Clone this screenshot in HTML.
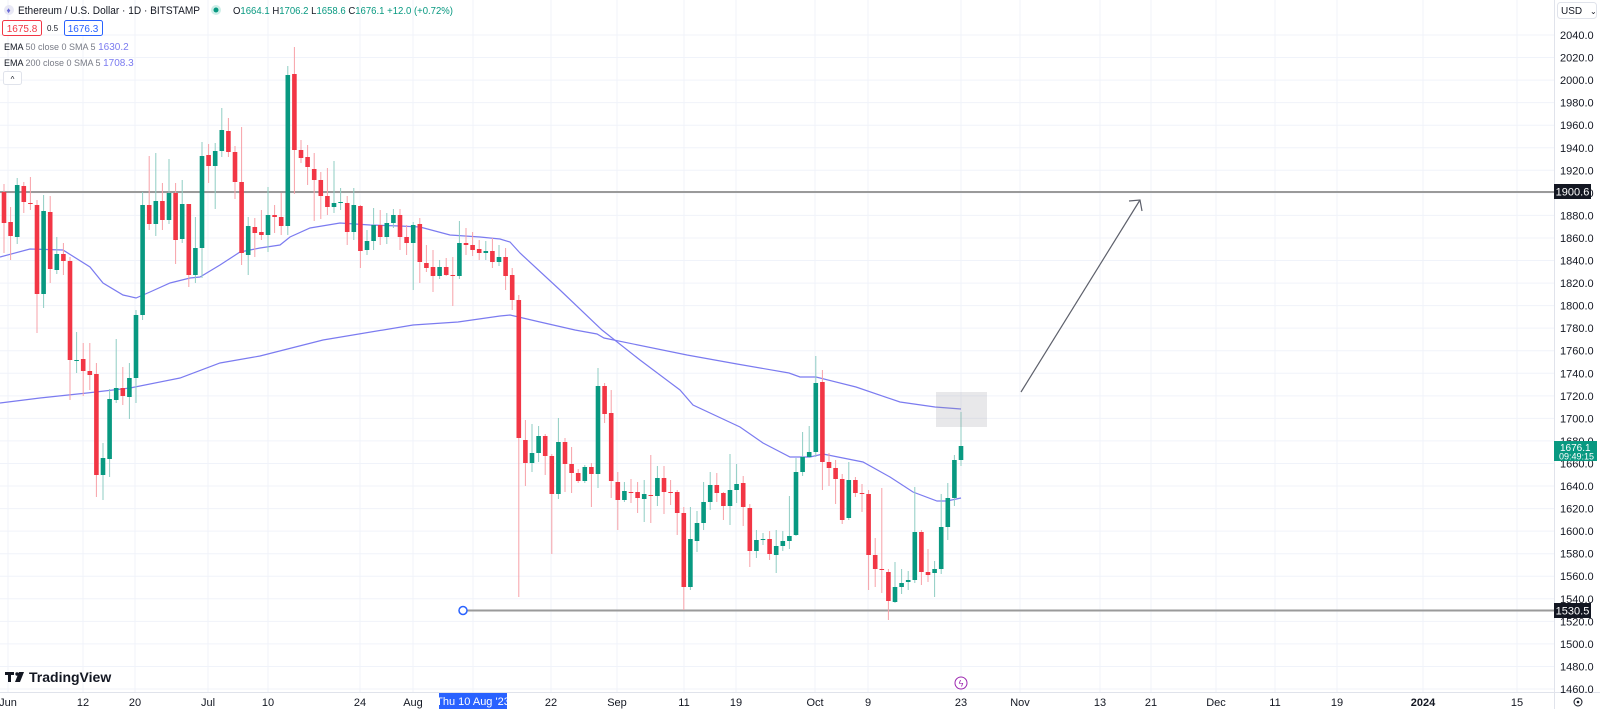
<!DOCTYPE html>
<html><head><meta charset="utf-8">
<style>
html,body{margin:0;padding:0;background:#fff;}
body{width:1600px;height:709px;overflow:hidden;position:relative;font-family:"Liberation Sans",sans-serif;}
svg{position:absolute;left:0;top:0;}
.t{font-family:"Liberation Sans",sans-serif;}
</style></head>
<body>
<svg id="s" width="1600" height="709" xmlns="http://www.w3.org/2000/svg"></svg>
<script>
const s=document.getElementById('s');
let h='';
const Y=p=>35+(2040-p)*1.1276;
for(let p=1460;p<=2040;p+=20){const y=Y(p);h+=`<line x1="0" y1="${y}" x2="1554" y2="${y}" stroke="#f0f3fa" stroke-width="1"/>`;}
const tl=[[8,'Jun'],[83,'12'],[135,'20'],[208,'Jul'],[268,'10'],[360,'24'],[413,'Aug'],[473,''],[551,'22'],[617,'Sep'],[684,'11'],[736,'19'],[815,'Oct'],[868,'9'],[961,'23'],[1020,'Nov'],[1100,'13'],[1151,'21'],[1216,'Dec'],[1275,'11'],[1337,'19'],[1423,'2024'],[1517,'15']];
tl.forEach(([x,l])=>{h+=`<line x1="${x}" y1="0" x2="${x}" y2="692" stroke="#f0f3fa" stroke-width="1"/>`;
 if(l)h+=`<text x="${x}" y="706" font-size="11" fill="#131722" text-anchor="middle" class="t" ${l=='2024'?'font-weight="bold"':''}>${l}</text>`;});
h+=`<line x1="0" y1="692.5" x2="1600" y2="692.5" stroke="#e0e3eb"/><line x1="1554.5" y1="0" x2="1554.5" y2="709" stroke="#e0e3eb"/>`;
for(let p=1460;p<=2040;p+=20){h+=`<text x="1560" y="${Y(p)+4}" font-size="11" fill="#131722" class="t">${p}.0</text>`;}
h+=`<line x1="0" y1="192" x2="1554" y2="192" stroke="#9a9a9a" stroke-width="2"/>`;
h+=`<line x1="467" y1="610.5" x2="1554" y2="610.5" stroke="#9a9a9a" stroke-width="2"/>`;
h+=`<circle cx="463" cy="610.5" r="4" fill="#fff" stroke="#2962ff" stroke-width="1.5"/>`;
const e50=[[0,257],[30,249],[63,250],[90,267],[103,283],[123,295],[136,298],[150,292],[170,283],[190,278],[200,277],[220,265],[240,252],[260,248],[280,245],[290,237],[310,228],[340,223],[370,225],[400,226],[420,227],[450,235],[480,237],[500,239],[510,242],[520,253],[560,290],[602,330],[640,360],[680,390],[693,405],[740,427],[763,443],[790,457],[810,457],[823,454],[843,458],[863,462],[890,477],[913,492],[937,501],[947,501],[961,498]];
const e200=[[0,403],[40,398],[87,393],[130,388],[180,378],[220,363],[260,356],[323,340],[413,325],[458,322],[500,316],[510,315],[540,322],[575,330],[597,334],[604,338],[687,355],[737,364],[789,373],[800,377],[816,377],[856,387],[900,402],[935,407],[961,409]];
const pl=a=>a.map(p=>p.join(',')).join(' ');
h+=`<polyline points="${pl(e50)}" fill="none" stroke="#7b7bf0" stroke-width="1.2"/>`;
h+=`<polyline points="${pl(e200)}" fill="none" stroke="#7b7bf0" stroke-width="1.2"/>`;
const d=`184,192,223,253,r 207,222,236,260,r 178,185,237,244,g 182,186,202,213,r 177,203,204,210,r 200,205,294,333,r 195,211,294,308,g 196,212,269,283,r 237,254,270,274,g 243,254,261,275,r 257,261,360,400,r 332,360,361,373,g 343,359,371,396,r 343,371,375,390,r 363,374,475,497,r 443,458,475,500,g 389,399,459,477,g 339,388,400,403,g 367,388,396,405,r 363,378,397,419,g 310,315,378,403,g 192,205,315,320,g 156,205,224,230,r 153,201,224,236,g 183,201,220,230,r 159,193,220,224,g 183,193,240,264,r 180,204,239,243,g 204,204,275,287,r 217,248,275,283,g 142,156,248,278,g 144,155,166,183,r 143,151,166,209,g 108,130,151,157,g 118,131,152,157,r 146,152,182,199,r 127,182,253,265,r 217,226,255,275,g 218,227,233,257,r 210,232,235,240,r 187,215,235,252,g 205,215,217,233,r 193,217,226,235,r 66,75,226,235,g 47,74,150,194,r 140,150,158,163,r 145,157,167,185,r 153,169,180,221,r 172,180,196,219,r 168,196,207,215,r 161,203,207,213,g 188,202,203,210,g 196,203,232,245,r 188,205,232,240,g 205,206,251,268,r 230,241,250,255,g 208,225,241,250,g 210,225,237,245,r 213,223,237,244,g 209,215,223,228,g 209,215,237,250,r 225,237,243,255,r 222,225,243,290,g 218,224,262,283,r 245,263,268,272,r 250,267,276,292,r 260,267,276,279,g 258,267,275,276,r 257,275,276,306,r 221,243,276,279,g 228,243,245,255,r 232,245,250,256,r 240,249,253,260,r 241,251,253,260,g 238,251,262,268,r 245,257,262,266,g 248,257,276,290,r 268,275,300,310,r 295,300,438,597,r 420,440,463,486,r 424,453,463,472,g 426,436,453,462,g 434,436,456,475,r 454,456,494,554,r 418,442,494,499,g 438,442,464,492,r 447,464,473,493,r 469,473,481,483,r 465,467,481,483,g 463,467,474,507,r 368,386,474,488,g 383,386,414,423,r 390,413,481,498,r 472,482,500,530,r 482,491,500,502,g 479,492,493,503,r 482,492,498,513,r 480,494,499,522,g 455,495,496,523,r 466,478,496,506,g 466,478,492,514,r 480,492,493,505,r 490,492,513,535,r 507,513,587,610,r 507,539,587,590,g 511,523,541,552,g 482,502,523,530,g 472,485,502,510,g 473,485,493,502,r 492,493,506,520,r 454,490,506,525,g 464,484,490,503,g 476,483,507,526,r 504,508,551,567,r 530,540,551,558,g 533,539,540,545,g 531,539,554,560,r 530,546,555,573,g 531,541,546,551,g 496,536,541,549,g 458,472,535,536,g 432,457,472,476,g 426,452,457,458,g 356,383,452,457,g 370,382,462,490,r 453,462,468,486,r 460,468,479,504,r 474,479,520,524,r 462,480,518,520,g 477,480,493,497,r 484,493,494,512,r 490,494,555,590,r 538,555,569,587,r 488,569,570,593,r 569,572,601,620,r 562,587,602,603,g 569,583,587,594,g 571,580,582,590,g 487,532,580,583,g 530,532,572,585,r 549,572,575,582,r 561,569,573,597,g 494,527,569,574,g 483,498,527,540,g 455,460,498,506,g 412,446,460,466,g`.split(' ');
d.forEach((c,i)=>{const [hi,t,b,lo,col]=c.split(',');const x=4+i*6.6;
 const C=col=='r'?'#f23645':'#089981',W=col=='r'?'#f7a1a8':'#8fcdc3';
 h+=`<line x1="${x}" y1="${hi}" x2="${x}" y2="${lo}" stroke="${W}" stroke-width="1"/>`;
 h+=`<rect x="${x-2.3}" y="${t}" width="4.6" height="${Math.max(1,b-t)}" fill="${C}"/>`;});
h+=`<rect x="936" y="392" width="51" height="35" fill="#9598a1" fill-opacity="0.22"/>`;
h+=`<line x1="1021" y1="392" x2="1140" y2="200" stroke="#5d606b" stroke-width="1.2"/><polyline points="1129,201 1140,200 1142,211" fill="none" stroke="#5d606b" stroke-width="1.2"/>`;
h+=`<rect x="1554" y="184" width="37" height="15" fill="#131722"/><text x="1572.5" y="195.5" font-size="11" fill="#fff" text-anchor="middle" class="t">1900.6</text>`;
h+=`<rect x="1554" y="603" width="37" height="15" fill="#131722"/><text x="1572.5" y="614.5" font-size="11" fill="#fff" text-anchor="middle" class="t">1530.5</text>`;
h+=`<rect x="1554" y="441" width="43" height="20" fill="#089981"/><text x="1560" y="451" font-size="10" fill="#fff" class="t">1676.1</text><text x="1559" y="459.5" font-size="9" fill="#fff" class="t">09:49:15</text>`;
h+=`<rect x="1557.5" y="2.5" width="39" height="16" rx="3" fill="#fff" stroke="#e0e3eb"/><text x="1561" y="14" font-size="10" fill="#131722" class="t">USD</text><text x="1590" y="14" font-size="8" fill="#131722" class="t">⌄</text>`;
h+=`<circle cx="961" cy="683" r="6" fill="#fff" stroke="#9c27b0" stroke-width="1"/><text x="961" y="686.5" font-size="9" fill="#9c27b0" text-anchor="middle" class="t">ϟ</text>`;
h+=`<circle cx="1578" cy="702" r="4" fill="none" stroke="#131722" stroke-width="1"/><circle cx="1578" cy="702" r="1.3" fill="#131722"/>`;
h+=`<rect x="439" y="693" width="68" height="16" fill="#2962ff"/><text x="473" y="705" font-size="11" fill="#fff" text-anchor="middle" class="t">Thu 10 Aug '23</text>`;
// TradingView logo
h+=`<text x="29" y="682" font-size="14" fill="#131722" class="t" font-weight="bold">TradingView</text>`;
h+=`<rect x="5" y="672" width="9" height="3" fill="#131722"/><rect x="8" y="672" width="3" height="10" fill="#131722"/><circle cx="17" cy="674" r="1.7" fill="#131722"/><polygon points="19,672 24,672 20,682 15,682" fill="#131722"/>`;
// header
h+=`<circle cx="9" cy="10" r="5" fill="#e8e8f5"/><text x="6.5" y="13" font-size="8" fill="#6b6bd6" class="t">♦</text>`;
h+=`<text x="18" y="14" font-size="11" fill="#131722" class="t" textLength="182" lengthAdjust="spacingAndGlyphs">Ethereum / U.S. Dollar · 1D · BITSTAMP</text>`;
h+=`<circle cx="216" cy="10" r="5" fill="#cdeee8"/><circle cx="216" cy="10" r="2.5" fill="#089981"/>`;
h+=`<text x="233" y="14" font-size="10" fill="#089981" class="t" textLength="220" lengthAdjust="spacingAndGlyphs"><tspan fill="#131722">O</tspan>1664.1 <tspan fill="#131722">H</tspan>1706.2 <tspan fill="#131722">L</tspan>1658.6 <tspan fill="#131722">C</tspan>1676.1 +12.0 (+0.72%)</text>`;
h+=`<rect x="2.5" y="20.5" width="39" height="15" rx="2" fill="#fff" stroke="#f23645"/><text x="22" y="32" font-size="10" fill="#f23645" text-anchor="middle" class="t">1675.8</text>`;
h+=`<text x="47" y="31" font-size="8" fill="#131722" class="t">0.5</text>`;
h+=`<rect x="64.5" y="20.5" width="38" height="15" rx="2" fill="#fff" stroke="#2962ff"/><text x="83" y="32" font-size="10" fill="#2962ff" text-anchor="middle" class="t">1676.3</text>`;
h+=`<text x="4" y="50" font-size="9" fill="#131722" class="t">EMA <tspan fill="#787b86">50 close 0 SMA 5</tspan> <tspan fill="#7b7bf0" font-size="10">  1630.2</tspan></text>`;
h+=`<text x="4" y="66" font-size="9" fill="#131722" class="t">EMA <tspan fill="#787b86">200 close 0 SMA 5</tspan> <tspan fill="#7b7bf0" font-size="10">  1708.3</tspan></text>`;
h+=`<rect x="3.5" y="71.5" width="18" height="13" rx="2" fill="#fff" stroke="#e0e3eb"/><text x="12.5" y="82" font-size="8" fill="#131722" text-anchor="middle" class="t">^</text>`;
s.innerHTML=h;
</script>
</body></html>
